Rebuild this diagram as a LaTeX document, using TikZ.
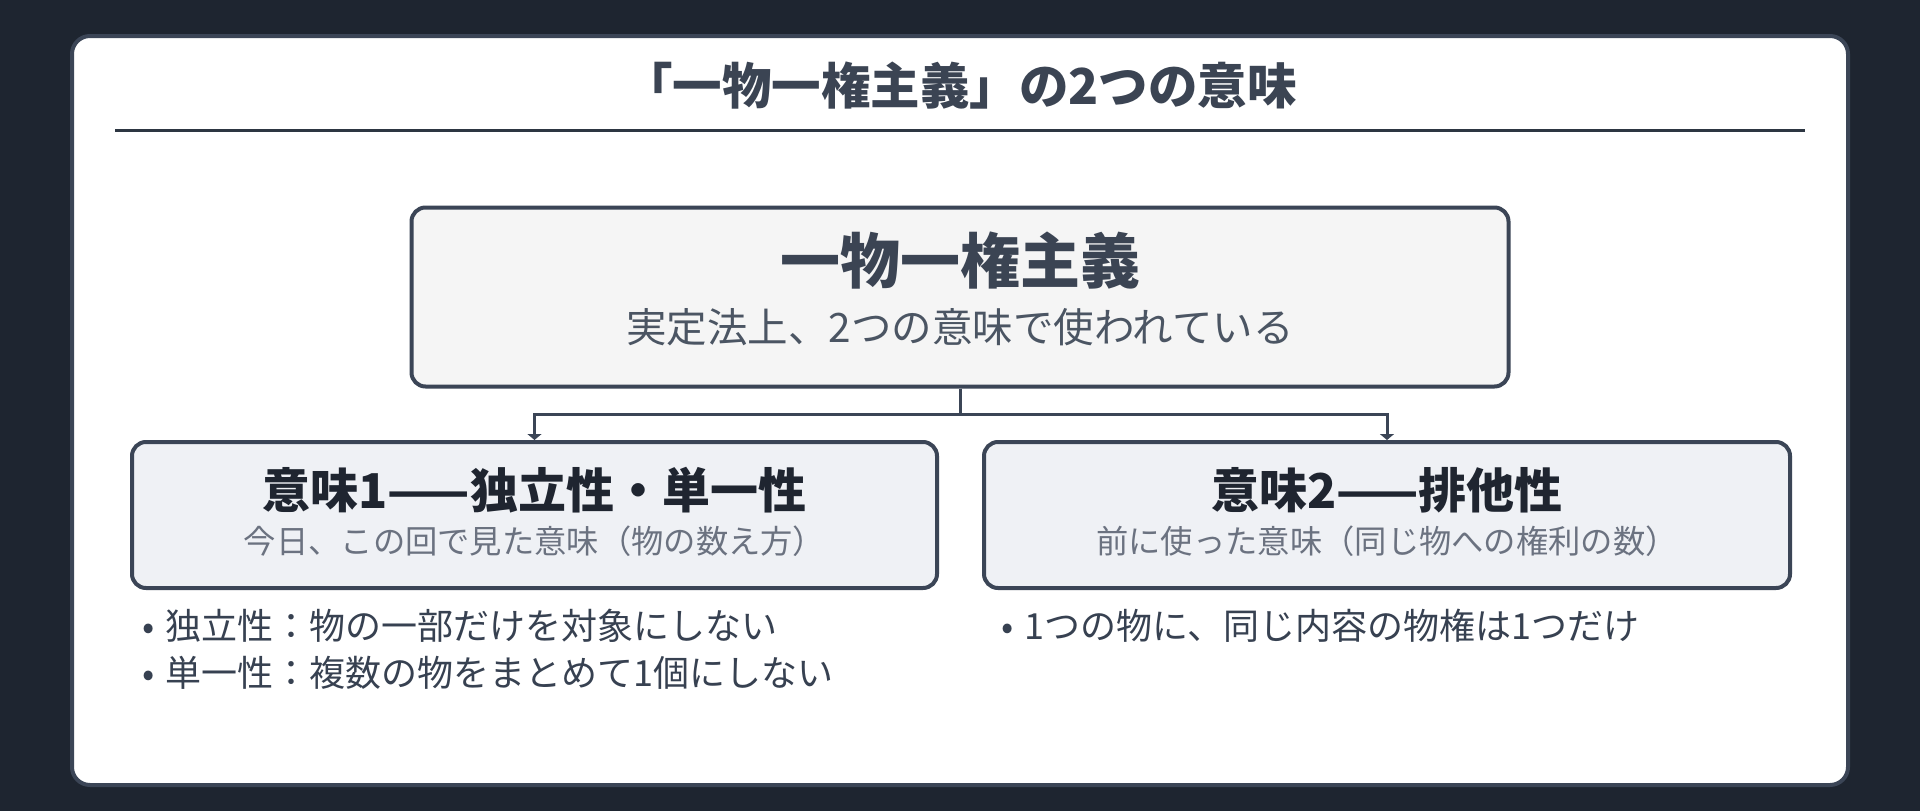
\documentclass[tikz,border=0pt]{standalone}
\usepackage{fontspec}
\setmainfont{Noto Sans CJK JP}
\usetikzlibrary{arrows.meta}
\definecolor{bgc}{HTML}{1E2530}
\definecolor{edge}{HTML}{3B4556}
\definecolor{titlec}{HTML}{3B4453}
\definecolor{rulec}{HTML}{2D3642}
\definecolor{mainfill}{HTML}{F5F5F5}
\definecolor{subfill}{HTML}{EFF1F5}
\definecolor{subgray}{HTML}{4B5563}
\definecolor{lightgray}{HTML}{6B7280}
\definecolor{darktxt}{HTML}{1F2530}
\definecolor{bullettxt}{HTML}{374151}
\tikzset{
  cardbox/.style={draw=edge, line width=4pt, fill=white, rounded corners=18pt, inner sep=0pt},
  mainbox/.style={draw=edge, line width=4pt, fill=mainfill, rounded corners=14pt, inner sep=0pt},
  subbox/.style={draw=edge, line width=4pt, fill=subfill, rounded corners=14pt, inner sep=0pt},
  link/.style={draw=edge, line width=3pt, -{Triangle[length=6pt,width=14pt]}},
  txt/.style={inner sep=0pt, anchor=center},
  bul/.style={inner sep=0pt, anchor=west, text=bullettxt, font=\fontsize{36}{42}\selectfont},
}
\newcommand{\bulmark}{•\hspace{11pt}}
\begin{document}
\begin{tikzpicture}[x=1pt,y=-1pt]
\useasboundingbox (0,0) rectangle (1920,811);
\fill[bgc] (0,0) rectangle (1920,811);
\node[cardbox, minimum width=1776pt, minimum height=749pt] (card) at (960,410.5) {};
\node[txt, text=titlec, font=\fontsize{49.5}{56}\selectfont\bfseries] (title) at (960,86) {「一物一権主義」の2つの意味};
\coordinate (ruleL) at (115,130);
\coordinate (ruleR) at (1805,130);
\draw[rulec, line width=3pt] (ruleL) -- (ruleR);
% main box
\node[mainbox, minimum width=1097pt, minimum height=179pt] (main) at (960,297) {};
\node[txt, text=titlec, font=\fontsize{60}{68}\selectfont\bfseries] (mainT) at (960,261) {一物一権主義};
\node[txt, text=subgray, font=\fontsize{40.5}{47}\selectfont] (mainS) at (960,327) {実定法上、2つの意味で使われている};
% sub boxes
\node[subbox, minimum width=805pt, minimum height=146pt] (b1) at (534.5,515) {};
\node[subbox, minimum width=806pt, minimum height=146pt] (b2) at (1387,515) {};
\draw[link] (main.south) -- ++(0,26) -| (b1.north);
\draw[link] (main.south) -- ++(0,26) -| (b2.north);
\node[txt, text=darktxt, font=\fontsize{48}{55}\selectfont\bfseries] (b1T) at (534.5,490) {意味1——独立性・単一性};
\node[txt, text=lightgray, font=\fontsize{32.3}{38}\selectfont] (b1S) at (534.5,541) {今日、この回で見た意味（物の数え方）};
\node[txt, text=darktxt, font=\fontsize{48}{55}\selectfont\bfseries] (b2T) at (1387,490) {意味2——排他性};
\node[txt, text=lightgray, font=\fontsize{32.3}{38}\selectfont] (b2S) at (1387,541) {前に使った意味（同じ物への権利の数）};
% bullets
\node[bul] (l1) at (142,626) {\bulmark 独立性：物の一部だけを対象にしない};
\node[bul] (r1) at (1001,626) {\bulmark 1つの物に、同じ内容の物権は1つだけ};
\node[bul] (l2) at (142,673) {\bulmark 単一性：複数の物をまとめて1個にしない};
\end{tikzpicture}
\end{document}
